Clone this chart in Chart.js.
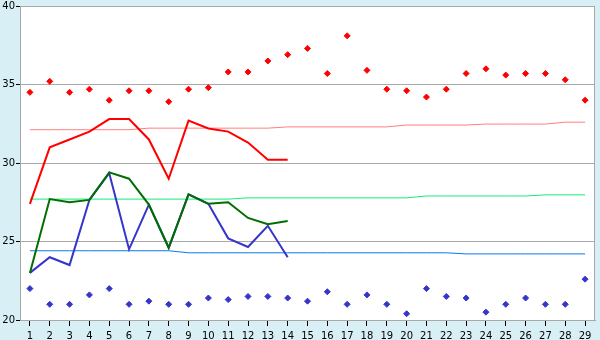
<!DOCTYPE html>
<html>
<head>
<meta charset="utf-8">
<script src="https://cdn.jsdelivr.net/npm/chart.js@4/dist/chart.umd.min.js"></script>
<style>
html,body{margin:0;padding:0;background:#d9eff6;}
#c{display:block;}
</style>
</head>
<body>
<canvas id="c" width="600" height="340"></canvas>
<script>
const days = ['1','2','3','4','5','6','7','8','9','10','11','12','13','14','15','16','17','18','19','20','21','22','23','24','25','26','27','28','29'];
const yTicks = [20, 25, 30, 35, 40];

const maxTemp = [34.5,35.2,34.5,34.7,34.0,34.6,34.6,33.9,34.7,34.8,35.8,35.8,36.5,36.9,37.3,35.7,38.1,35.9,34.7,34.6,34.2,34.7,35.7,36.0,35.6,35.7,35.7,35.3,34.0];
const minTemp = [22.0,21.0,21.0,21.6,22.0,21.0,21.2,21.0,21.0,21.4,21.3,21.5,21.5,21.4,21.2,21.8,21.0,21.6,21.0,20.4,22.0,21.5,21.4,20.5,21.0,21.4,21.0,21.0,22.6];

const dailyMax  = [27.4,31.0,31.5,32.0,32.8,32.8,31.5,29.0,32.7,32.2,32.0,31.3,30.2,30.2];
const dailyMean = [23.0,27.7,27.5,27.65,29.4,29.0,27.35,24.6,28.0,27.4,27.5,26.5,26.1,26.3];
const dailyMin  = [23.0,24.0,23.5,27.65,29.35,24.5,27.35,24.6,28.0,27.4,25.2,24.65,26.0,24.0];

const normalMax  = [32.12,32.12,32.12,32.12,32.12,32.12,32.22,32.22,32.22,32.22,32.22,32.22,32.22,32.3,32.3,32.3,32.3,32.3,32.3,32.42,32.42,32.42,32.42,32.48,32.48,32.48,32.48,32.6,32.6];
const normalMean = [27.7,27.7,27.7,27.7,27.7,27.7,27.7,27.7,27.7,27.7,27.7,27.78,27.78,27.78,27.78,27.78,27.78,27.78,27.78,27.78,27.9,27.9,27.9,27.9,27.9,27.9,27.97,27.97,27.97];
const normalMin  = [24.41,24.41,24.41,24.41,24.41,24.41,24.41,24.41,24.28,24.28,24.28,24.28,24.28,24.28,24.28,24.28,24.28,24.28,24.28,24.28,24.28,24.28,24.21,24.21,24.21,24.21,24.21,24.21,24.21];

const frame = {
  id: 'frame',
  beforeDraw(chart) {
    const {ctx, chartArea: a} = chart;
    ctx.save();
    ctx.fillStyle = '#d9eff6';
    ctx.fillRect(0, 0, chart.width, chart.height);
    ctx.fillStyle = '#ffffff';
    ctx.fillRect(a.left, a.top, a.right - a.left, a.bottom - a.top);
    ctx.restore();
  },
  afterDraw(chart) {
    const {ctx, chartArea: a} = chart;
    ctx.save();
    ctx.strokeStyle = '#a8a8a8';
    ctx.lineWidth = 1;
    ctx.beginPath();
    ctx.moveTo(Math.round(a.right) - 0.5, a.top);
    ctx.lineTo(Math.round(a.right) - 0.5, a.bottom);
    ctx.stroke();
    ctx.restore();
  }
};

function thin(data, color, order) {
  return {type:'line', data, borderColor: color, borderWidth: 1, pointRadius: 0, fill:false, tension:0, order};
}
function thick(data, color, order) {
  return {type:'line', data, borderColor: color, borderWidth: 2, pointRadius: 0, fill:false, tension:0, order};
}
function dots(data, color, order) {
  return {type:'line', data, showLine:false, pointStyle:'rectRot', pointRadius:3, pointBorderWidth:1,
          pointBackgroundColor: color, pointBorderColor: color, borderColor: color, order};
}

new Chart(document.getElementById('c'), {
  type: 'line',
  data: {
    labels: days,
    datasets: [
      dots(maxTemp, '#ff0000', 1),
      dots(minTemp, '#3535cc', 2),
      thick(dailyMax, '#ff0000', 3),
      thick(dailyMean, '#006e00', 4),
      thick(dailyMin, '#3535cc', 5),
      thin(normalMax, '#ff7f7f', 6),
      thin(normalMean, '#11ee77', 7),
      thin(normalMin, '#0a78ee', 8)
    ]
  },
  options: {
    responsive: false,
    animation: false,
    layout: {padding: {top: 5, right: 5, left: 0, bottom: 0}},
    plugins: {legend: {display: false}, tooltip: {enabled: false}},
    scales: {
      x: {
        offset: true,
        grid: {display: true, drawOnChartArea: false, drawTicks: true, tickLength: 6, tickColor: '#000000', color:'#a8a8a8'},
        border: {display: true, color: '#a8a8a8'},
        ticks: {color: '#000000', font: {family: 'DejaVu Sans', size: 10, lineHeight: 1}, padding: 5, maxRotation: 0, autoSkip: false},
        afterFit(s) { s.height = 20; }
      },
      y: {
        min: 20, max: 40,
        afterBuildTicks(s) { s.ticks = yTicks.map(v => ({value: v})); },
        grid: {color: '#aaaaaa', tickColor: '#000000', tickLength: 4, drawTicks: true},
        border: {display: true, color: '#a8a8a8'},
        ticks: {color: '#000000', font: {family: 'DejaVu Sans', size: 10, lineHeight: 1}, padding: 1},
        afterFit(s) { s.width = 20; }
      }
    }
  },
  plugins: [frame]
});
</script>
</body>
</html>
